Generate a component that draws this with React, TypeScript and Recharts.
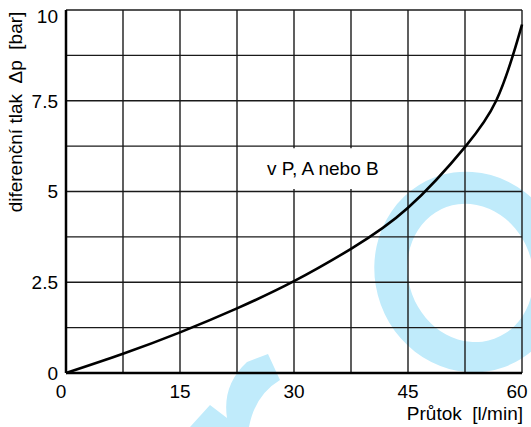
import React from 'react';
import { LineChart, Line, XAxis, YAxis, CartesianGrid, ReferenceArea } from 'recharts';

// flow [l/min] and pressure drop [bar]
const flow = [0, 7.5, 15, 22.5, 30, 37.5, 45, 52.6, 56.6, 58.8, 60];
const dp = [0, 0.53, 1.12, 1.78, 2.53, 3.42, 4.55, 6.25, 7.5, 8.75, 9.6];

const xTicks = [0, 7.5, 15, 22.5, 30, 37.5, 45, 52.5, 60];
const yTicks = [0, 1.25, 2.5, 3.75, 5, 6.25, 7.5, 8.75, 10];
const xLabeled = [0, 15, 30, 45, 60];
const yLabeled = [0, 2.5, 5, 7.5, 10];

const data = flow.map((q, i) => ({ q, dp: dp[i] }));

const FONT = '"Liberation Sans", Arial, Helvetica, sans-serif';

function XTick(props: any) {
  const { x, y, payload } = props;
  const v = payload.value;
  if (!xLabeled.includes(v)) return null;
  const dx = v === 0 ? -5 : v === 60 ? -5 : 0;
  return (
    <text x={x + dx} y={y + 1} dy="0.72em" textAnchor="middle" fontSize={19} fill="#000" fontFamily={FONT}>
      {v}
    </text>
  );
}

function YTick(props: any) {
  const { x, y, payload } = props;
  const v = payload.value;
  if (!yLabeled.includes(v)) return null;
  const dy = v === 10 ? 6 : 0;
  return (
    <text x={x} y={y + dy} dy="0.36em" textAnchor="end" fontSize={19} fill="#000" fontFamily={FONT}>
      {v}
    </text>
  );
}

// light blue logo watermark behind the chart
function Watermark() {
  return (
    <svg width={531} height={427} style={{ position: 'absolute', left: 0, top: 0 }}>
      <g transform="rotate(-20 470 272)">
        <path
          fillRule="evenodd"
          fill="#c0ebfb"
          d="M 375 272 a 95 101 0 1 0 190 0 a 95 101 0 1 0 -190 0 Z M 408 273 a 62 70 0 1 0 124 0 a 62 70 0 1 0 -124 0 Z"
        />
      </g>
      <path
        fill="#c0ebfb"
        d="M 247 362 L 268 354 L 280 380 Q 255 395 249 427 L 190 427 L 210 405 L 227 418 Q 222 385 247 362 Z"
      />
    </svg>
  );
}

export default function App() {
  return (
    <div style={{ position: 'absolute', left: 0, top: 0, width: 531, height: 427, background: '#fff', fontFamily: FONT }}>
      <Watermark />
      <div style={{ position: 'absolute', left: 0, top: 0 }}>
        <LineChart width={531} height={427} data={data} margin={{ top: 10, right: 9, left: 0, bottom: 0 }}>
          <CartesianGrid stroke="#1a1a1a" strokeWidth={1.4} />
          <XAxis
            dataKey="q"
            type="number"
            domain={[0, 60]}
            ticks={xTicks}
            interval={0}
            tickLine={false}
            axisLine={{ stroke: '#000', strokeWidth: 2.5 }}
            tick={<XTick />}
            tickMargin={4}
            height={54}
            label={(p: any) => {
              const vb = p.viewBox;
              return (
                <text x={vb.x + vb.width + 1} y={420} textAnchor="end" fontSize={19} fill="#000" fontFamily={FONT}>
                  {'Průtok\u00a0\u00a0[l/min]'}
                </text>
              );
            }}
          />
          <YAxis
            type="number"
            domain={[0, 10]}
            ticks={yTicks}
            interval={0}
            tickLine={false}
            axisLine={{ stroke: '#000', strokeWidth: 2.5 }}
            tick={<YTick />}
            width={66}
            label={(p: any) => {
              const vb = p.viewBox;
              const cx = vb.x + 15;
              const cy = 112;
              return (
                <text
                  x={cx}
                  y={cy}
                  transform={`rotate(-90 ${cx} ${cy})`}
                  textAnchor="middle"
                  dominantBaseline="central"
                  fontSize={19}
                  fill="#000"
                  fontFamily={FONT}
                >
                  {'diferenční tlak\u00a0\u00a0Δp\u00a0\u00a0[bar]'}
                </text>
              );
            }}
          />
          <ReferenceArea
            x1={23.6}
            x2={44}
            y1={5.07}
            y2={6.19}
            fill="#fff"
            fillOpacity={1}
            stroke="none"
            label={{ value: 'v P, A nebo B', position: 'center', fontSize: 19, fill: '#000', fontFamily: FONT }}
          />
          <Line
            dataKey="dp"
            type="natural"
            stroke="#000"
            strokeWidth={2.6}
            dot={false}
            activeDot={false}
            isAnimationActive={false}
          />
        </LineChart>
      </div>
    </div>
  );
}
